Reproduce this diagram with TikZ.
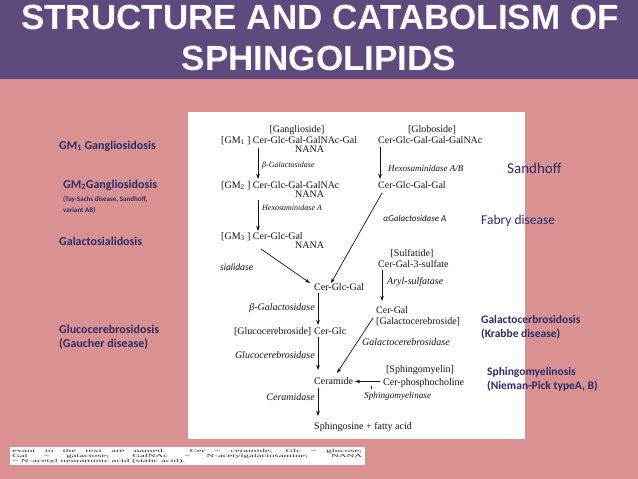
\documentclass[tikz,border=0pt]{standalone}
\usepackage{fontspec}
\usepackage{graphicx}
\setmainfont{Liberation Serif}
\newfontfamily\calib{Carlito}
\newfontfamily\arialf{Liberation Sans}
\usetikzlibrary{arrows.meta}
\definecolor{titlebg}{RGB}{94,74,124}
\definecolor{pinkbg}{RGB}{217,146,145}
\definecolor{navy}{RGB}{40,46,108}
\definecolor{ink}{RGB}{20,20,20}
\begin{document}
\begin{tikzpicture}[x=1pt,y=-1pt,
  chem/.style={font=\fontsize{10}{10}\selectfont, text=ink, inner sep=0pt, anchor=base west},
  chemc/.style={chem, anchor=base},
  enz/.style={font=\fontsize{10}{10}\selectfont\itshape, text=ink, inner sep=0pt, anchor=base west},
  enzr/.style={enz, anchor=base east},
  enzs/.style={enz, font=\fontsize{8}{8}\selectfont\itshape},
  cal/.style={font=\calib\itshape\fontsize{9}{9}\selectfont, text=ink, inner sep=0pt, anchor=base west},
  dis/.style={font=\calib\bfseries\fontsize{12}{12}\selectfont, text=navy, inner sep=0pt, anchor=base west},
  dissmall/.style={font=\calib\bfseries\fontsize{7}{7}\selectfont, text=navy, inner sep=0pt, anchor=base west},
  disreg/.style={font=\calib\fontsize{13.5}{13.5}\selectfont, text=navy, inner sep=0pt, anchor=base west},
  arr/.style={draw=ink, line width=0.7pt, -{Stealth[length=5pt,width=3.6pt]}},
  ttl/.style={font=\arialf\bfseries\fontsize{35}{35}\selectfont, text=white, anchor=base, inner sep=0pt},
]
\useasboundingbox (0,0) rectangle (638,479);
% backgrounds
\fill[pinkbg] (0,0) rectangle (638,479);
\fill[titlebg] (0,0) rectangle (638,79);
\fill[white] (188,112) rectangle (525,439);
\fill[white] (10,447) rectangle (365,465);

% title
\node[ttl] (t1) at (320,30) {STRUCTURE AND CATABOLISM OF};
\node[ttl] (t2) at (319,70) {SPHINGOLIPIDS};

% left column (gangliosides)
\node[chemc] (gang) at (297,132.3) {[Ganglioside]};
\node[chem] (gm1) at (221,143.3) {[GM\textsubscript{1} ] Cer-Glc-Gal-GalNAc-Gal};
\node[chem] (nana1) at (295,152.8) {NANA};
\node[enzs] (bgal1) at (262,167.6) {β-Galactosidase};
\node[chem] (gm2) at (221,188.3) {[GM\textsubscript{2} ] Cer-Glc-Gal-GalNAc};
\node[chem] (nana2) at (295,197.5) {NANA};
\node[enzs] (hexa) at (262,210.6) {Hexosaminidase A};
\node[chem] (gm3) at (221,239.3) {[GM\textsubscript{3} ] Cer-Glc-Gal};
\node[chem] (nana3) at (295,248.3) {NANA};
\node[cal, font=\calib\itshape\fontsize{9.5}{9.5}\selectfont] (sial) at (220,270) {sialidase};

% right column (globoside)
\node[chemc] (glob) at (432,132.3) {[Globoside]};
\node[chem] (globc) at (378,143.3) {Cer-Glc-Gal-Gal-GalNAc};
\node[enz, font=\fontsize{9}{9}\selectfont\itshape] (hexab) at (388,171) {Hexosaminidase A/B};
\node[chem] (cggg) at (378,188.3) {Cer-Glc-Gal-Gal};
\node[cal] (agal) at (383,221) {αGalactosidase A};

% sulfatide
\node[chemc] (sulf) at (412,256) {[Sulfatide]};
\node[chem] (cg3s) at (378,267) {Cer-Gal-3-sulfate};
\node[enz] (aryl) at (387,284) {Aryl-sulfatase};
\node[chem] (cgal) at (376,313) {Cer-Gal};
\node[chem] (galc) at (376,324) {[Galactocerebroside]};
\node[enz] (galcase) at (362,345.3) {Galactocerebrosidase};

% sphingomyelin
\node[chemc] (sph) at (420,372.3) {[Sphingomyelin]};
\node[chem] (cpc) at (383,385.3) {Cer-phosphocholine};
\node[enz, font=\fontsize{9.2}{9.2}\selectfont\itshape] (sphase) at (364,398) {Sphingomyelinase};

% centre column
\node[chem] (cgg) at (314,290.3) {Cer-Glc-Gal};
\node[enzr] (bgal2) at (315,310.3) {β-Galactosidase};
\node[chem] (cglc) at (314,334.3) {Cer-Glc};
\node[chem, anchor=base east] (gcerlab) at (311.5,334.3) {[Glucocerebroside]};
\node[enzr] (gcase) at (315,358.3) {Glucocerebrosidase};
\node[chem] (cer) at (314,384.3) {Ceramide};
\node[enzr] (cerase) at (315,400.3) {Ceramidase};
\node[chem] (sphingo) at (314,429.3) {Sphingosine + fatty acid};

% connector end points
\coordinate (a1s) at (258,148);
\coordinate (a1e) at (258,179);
\coordinate (a2s) at (258,200);
\coordinate (a2e) at (258,231);
\coordinate (a3s) at (380,147);
\coordinate (a3e) at (380,179);
\coordinate (a4s) at (261,249);
\coordinate (a4e) at (310,283);
\coordinate (a5s) at (382,193);
\coordinate (a5e) at (331,283);
\coordinate (a6s) at (318,293);
\coordinate (a6e) at (318,325);
\coordinate (a7s) at (382,270);
\coordinate (a7e) at (382,301);
\coordinate (a8s) at (373,318);
\coordinate (a8e) at (337,373);
\coordinate (a9s) at (318,337);
\coordinate (a9e) at (318,370);
\coordinate (a10s) at (380,381.5);
\coordinate (a10e) at (355,381.5);
\coordinate (a11s) at (318,388);
\coordinate (a11e) at (318,416);
\coordinate (tk1) at (371,386);
\coordinate (tk2) at (371,389);

\draw[arr] (a1s) -- (a1e);
\draw[arr] (a2s) -- (a2e);
\draw[arr] (a3s) -- (a3e);
\draw[arr] (a4s) -- (a4e);
\draw[arr] (a5s) -- (a5e);
\draw[arr] (a6s) -- (a6e);
\draw[arr] (a7s) -- (a7e);
\draw[arr] (a8s) -- (a8e);
\draw[arr] (a9s) -- (a9e);
\draw[arr] (a10s) -- (a10e);
\draw[arr] (a11s) -- (a11e);
\draw[ink, line width=0.5pt] (tk1) -- (tk2);

% disease labels
\node[dis] (d1) at (59,149) {GM\textsubscript{1} Gangliosidosis};
\node[dis] (d2) at (63,188) {GM\textsubscript{2}Gangliosidosis};
\node[dissmall] (d2a) at (63,201.5) {(Tay-Sachs disease, Sandhoff,};
\node[dissmall] (d2b) at (63,212.5) {variant AB)};
\node[dis] (d3) at (59,245) {Galactosialidosis};
\node[dis] (d4) at (59,333) {Glucocerebrosidosis};
\node[dis] (d4b) at (59,347) {(Gaucher disease)};
\node[disreg, font=\calib\fontsize{15}{15}\selectfont] (d5) at (507,173.5) {Sandhoff};
\node[disreg] (d6) at (481,224.5) {Fabry disease};
\node[dis, font=\calib\bfseries\fontsize{11.5}{11.5}\selectfont] (d7) at (481,323) {Galactocerbrosidosis};
\node[dis, font=\calib\bfseries\fontsize{11.5}{11.5}\selectfont] (d7b) at (481,337) {(Krabbe disease)};
\node[dis, font=\calib\bfseries\fontsize{11.5}{11.5}\selectfont] (d8) at (487,375) {Sphingomyelinosis};
\node[dis, font=\calib\bfseries\fontsize{11.5}{11.5}\selectfont] (d8b) at (487,389) {(Nieman-Pick typeA, B)};

% caption
\node[anchor=north west, inner sep=0pt, text=black!85] (cap) at (12,448.5) {\resizebox*{350pt}{15pt}{\fontsize{7}{7.6}\selectfont\begin{tabular}{@{}l@{}}\makebox[228pt][s]{evant to the text are named. Cer = ceramide; Glc = glucose;}\\ \makebox[228pt][s]{Gal = galactose; GalNAc = N-acetylgalactosamine; NANA}\\ = N-acetyl neuraminic acid (sialic acid).\end{tabular}}};
\end{tikzpicture}
\end{document}
